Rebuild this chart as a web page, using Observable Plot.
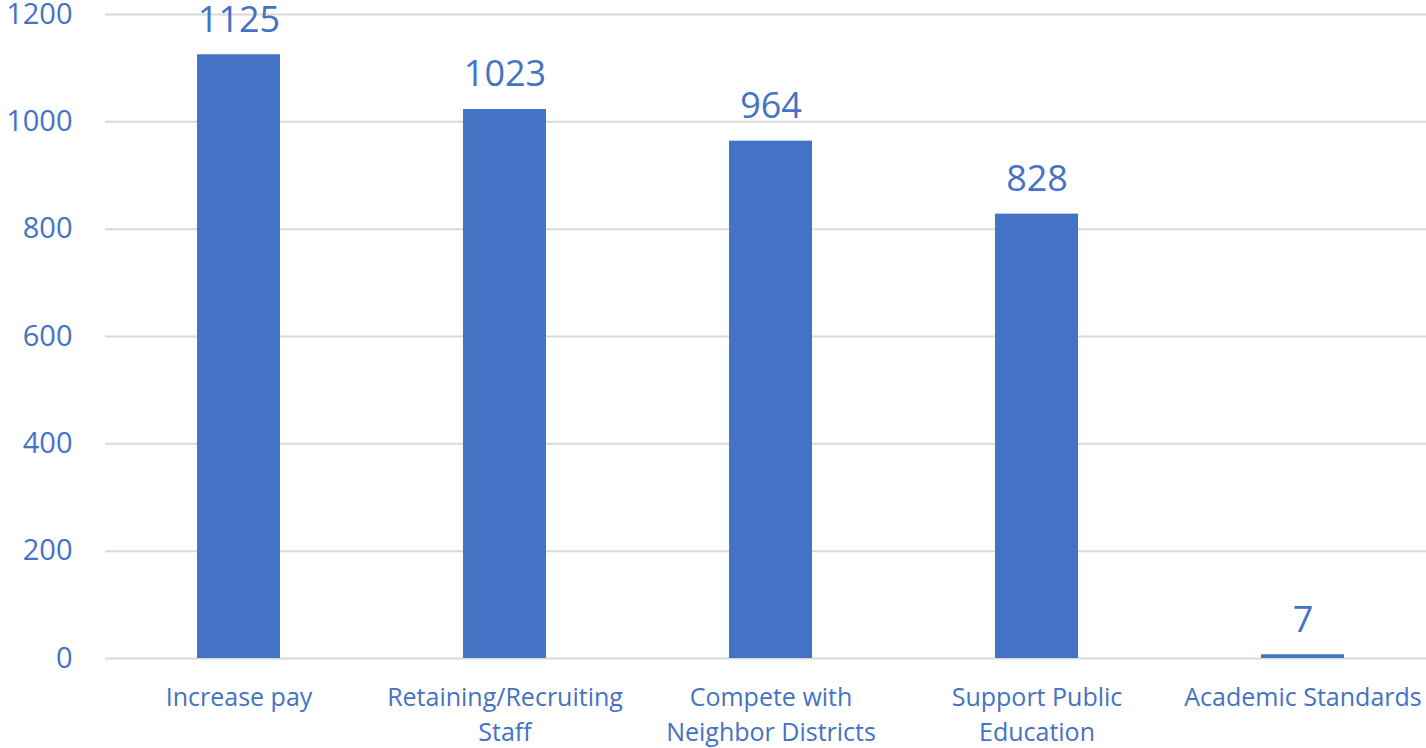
<!DOCTYPE html>
<html>
<head>
<meta charset="utf-8">
<script src="https://cdn.jsdelivr.net/npm/d3@7"></script>
<script src="https://cdn.jsdelivr.net/npm/@observablehq/plot@0.6"></script>
<style>
  html, body { margin: 0; padding: 0; background: #fff; overflow: hidden; }
  #chart svg { display: block; }
</style>
</head>
<body>
<div id="chart"></div>
<script>
const categories = [
  "Increase pay",
  "Retaining/Recruiting\nStaff",
  "Compete with\nNeighbor Districts",
  "Support Public\nEducation",
  "Academic Standards"
];
const values = [1125, 1023, 964, 828, 7];
const yTicks = [0, 200, 400, 600, 800, 1000, 1200];

const data = categories.map((c, i) => ({category: c, value: values[i]}));
const blue = "#4472C4";

const chart = Plot.plot({
  width: 1426,
  height: 748,
  marginLeft: 105,
  marginRight: 0,
  marginTop: 14,
  marginBottom: 90,
  style: {fontFamily: "'Open Sans', sans-serif", background: "#fff", overflow: "visible"},
  x: {domain: categories, range: [105, 1435], paddingInner: 0.688, paddingOuter: 0.344, align: 0.5},
  y: {domain: [0, 1200]},
  marks: [
    Plot.gridY(yTicks, {stroke: "#d9d9d9", strokeOpacity: 1, strokeWidth: 2}),
    Plot.axisY({
      ticks: yTicks, tickFormat: d => String(d), tickSize: 0, tickPadding: 33, fontSize: 29,
      fill: blue, label: null
    }),
    Plot.axisX({
      tickSize: 0, tickPadding: 23, fontSize: 25, lineHeight: 1.4,
      fill: blue, label: null
    }),
    Plot.barY(data, {x: "category", y: "value", fill: blue}),
    Plot.text(data, {
      x: "category", y: "value", text: d => String(d.value),
      lineAnchor: "bottom", dy: -23, fontSize: 36, fill: blue
    })
  ]
});
document.getElementById("chart").appendChild(chart);
</script>
</body>
</html>
